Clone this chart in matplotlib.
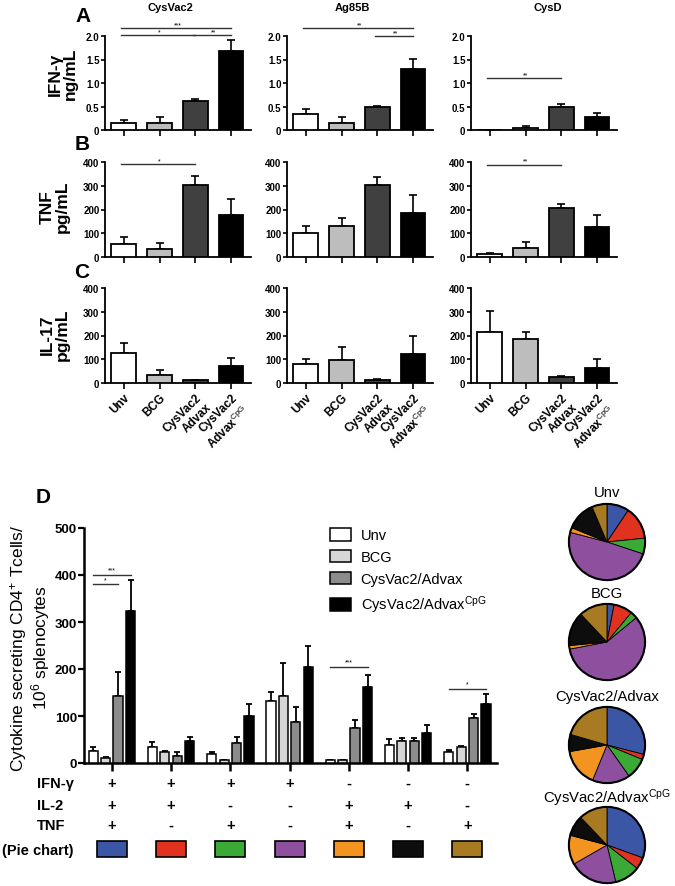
import numpy as np
import matplotlib
matplotlib.use("Agg")
from matplotlib import pyplot as plt
from matplotlib import transforms
from matplotlib.patches import Rectangle, Circle

plt.rcParams['font.family'] = ['Liberation Sans', 'DejaVu Sans']
plt.rcParams['mathtext.fontset'] = 'custom'
plt.rcParams['mathtext.rm'] = 'Liberation Sans'
plt.rcParams['mathtext.it'] = 'Liberation Sans:italic'
plt.rcParams['mathtext.bf'] = 'Liberation Sans:bold'

# ---- data: panels A-C (mean and upper error) ----
antigens = ["CysVac2", "Ag85B", "CysD"]
tick_groups = ["Unv", "BCG", "CysVac2\nAdvax", "CysVac2\nAdvax$^{\\mathrm{CpG}}$"]

ifng_mean = [[0.15, 0.14, 0.61, 1.68], [0.34, 0.14, 0.48, 1.29], [0.005, 0.05, 0.49, 0.28]]
ifng_err = [[0.07, 0.14, 0.06, 0.23], [0.11, 0.14, 0.03, 0.23], [0.0, 0.04, 0.06, 0.08]]
tnf_mean = [[55, 35, 305, 175], [103, 132, 303, 187], [13, 38, 207, 127]]
tnf_err = [[28, 23, 38, 68], [29, 31, 32, 73], [2, 27, 17, 51]]
il17_mean = [[125, 32, 13, 70], [78, 98, 13, 123], [215, 185, 25, 63]]
il17_err = [[45, 21, 1, 34], [23, 52, 2, 73], [90, 28, 3, 37]]

# significance: (row, col, bar_from, bar_to, y, label)
sig_abc = [(0, 0, 0, 3, 2.17, "***"), (0, 0, 0, 2, 2.02, "*"), (0, 0, 2, 3, 2.02, "**"),
           (0, 1, 0, 3, 2.17, "**"), (0, 1, 2, 3, 2.0, "**"),
           (0, 2, 0, 2, 1.10, "**"),
           (1, 0, 0, 2, 390, "*"), (1, 2, 0, 2, 388, "**")]

# ---- data: panel D ----
d_groups = ["Unv", "BCG", "CysVac2/Advax", "CysVac2/Advax$^{\\mathrm{CpG}}$"]
d_mean = [[26, 34, 20, 131, 6, 39, 23],
          [10, 23, 6, 143, 6, 47, 34],
          [143, 15, 43, 87, 75, 47, 96],
          [323, 47, 100, 205, 162, 64, 126]]
d_err = [[8, 10, 3, 21, 1, 12, 5],
         [2, 2, 1, 70, 1, 6, 2],
         [50, 8, 13, 32, 17, 6, 9],
         [67, 9, 26, 45, 26, 17, 20]]
ifng_row = ["+", "+", "+", "+", "-", "-", "-"]
il2_row = ["+", "+", "-", "-", "+", "+", "-"]
tnf_row = ["+", "-", "+", "-", "+", "-", "+"]
pie_colors = ["#3a56a5", "#e1321f", "#3aa935", "#8e4f9e", "#f39421", "#0d0d0d", "#a87a22"]
sig_d = [(0, 0, 3, 400, "***"), (0, 0, 2, 380, "*"), (4, 0, 3, 205, "***"), (6, 0, 3, 158, "*")]

# pie fractions (%), same order as pie_colors
pie_unv = [9.4, 14, 6.7, 49, 2, 12.5, 6.4]
pie_bcg = [3, 8, 3, 58, 1.5, 14.5, 12]
pie_adv = [29, 2.2, 9, 16, 16, 7.3, 20.5]
pie_cpg = [30.5, 5, 10.8, 20.4, 12.4, 8.8, 12.1]

W, H = 675, 887
fig = plt.figure(figsize=(W / 100, H / 100), dpi=100)


def add_px_axes(l, t, r, b):
    return fig.add_axes([l / W, 1 - b / H, (r - l) / W, (b - t) / H])


def ftext(x, y, s, **kw):
    return fig.text(x / W, 1 - y / H, s, **kw)


abc_colors = ["white", "#bdbdbd", "#404040", "black"]
cols_px = [(105, 251), (287, 433), (471, 617)]
rows_px = [(37, 131), (163, 258), (289, 384)]
row_data = [(ifng_mean, ifng_err, 2.0, [0, 0.5, 1.0, 1.5, 2.0], ["0", "0.5", "1.0", "1.5", "2.0"]),
            (tnf_mean, tnf_err, 400, [0, 100, 200, 300, 400], ["0", "100", "200", "300", "400"]),
            (il17_mean, il17_err, 400, [0, 100, 200, 300, 400], ["0", "100", "200", "300", "400"])]
x = np.arange(4)
axes_abc = {}
for ri, (t, b) in enumerate(rows_px):
    means, errs, ymax, yt, ytl = row_data[ri]
    for ci, (l, r) in enumerate(cols_px):
        ax = add_px_axes(l, t, r, b)
        axes_abc[(ri, ci)] = ax
        ax.bar(x, means[ci], width=0.68, color=abc_colors, edgecolor="black", linewidth=1.3, zorder=3)
        ax.errorbar(x, means[ci], yerr=[np.zeros(4), errs[ci]], fmt="none", ecolor="black",
                    elinewidth=1.2, capsize=3, capthick=1.2, zorder=2)
        ax.set_xlim(-0.52, 3.55)
        ax.set_ylim(0, ymax)
        ax.set_yticks(yt)
        ax.set_yticklabels(ytl, fontsize=7, fontweight="bold")
        ax.set_xticks(x)
        if ri == 2:
            ax.set_xticklabels(tick_groups, rotation=45, ha="right", va="top",
                               rotation_mode="anchor", fontsize=8.5, fontweight="bold")
        else:
            ax.set_xticklabels([])
        for s in ["top", "right"]:
            ax.spines[s].set_visible(False)
        for s in ["left", "bottom"]:
            ax.spines[s].set_linewidth(1.3)
        ax.tick_params(axis="y", width=1.2, length=3, pad=1)
        ax.tick_params(axis="x", width=1.2, length=4, pad=2)

for ri, ci, b0, b1, y, lab in sig_abc:
    ax = axes_abc[(ri, ci)]
    ax.plot([b0 - 0.08, b1], [y, y], color="#333333", lw=1.0, clip_on=False)
    ax.text((b0 + b1) / 2, y, lab, ha="center", va="bottom", fontsize=5, clip_on=False)

# titles, panel letters, y labels
for name, xc in zip(antigens, [170, 352, 548]):
    ftext(xc, 8, name, ha="center", va="center", fontsize=8, fontweight="bold")
for letter, (lx, ly) in zip("ABCD", [(83, 16), (82, 145), (82, 273), (43, 498)]):
    ftext(lx, ly, letter, ha="center", va="center", fontsize=15, fontweight="bold")
for lab, (lx, ly) in zip(["IFN-γ\nng/mL", "TNF\npg/mL", "IL-17\npg/mL"], [(63, 74), (55, 207), (55, 335)]):
    ftext(lx, ly, lab, ha="center", va="center", rotation=90, fontsize=12.5,
          fontweight="bold", linespacing=1.0)

# ---- panel D ----
axd = add_px_axes(84, 529, 497, 764)
d_colors = ["white", "#d6d6d6", "#8c8c8c", "black"]
gx = np.arange(7)
off = 0.21
for k in range(4):
    xs = gx + (k - 1.5) * off
    axd.bar(xs, d_mean[k], width=0.155, color=d_colors[k], edgecolor="black", linewidth=1.1,
            label=d_groups[k], zorder=3)
    axd.errorbar(xs, d_mean[k], yerr=[np.zeros(7), d_err[k]], fmt="none", ecolor="black",
                 elinewidth=1.3, capsize=2.2, capthick=1.3, zorder=2)
axd.set_xlim(-0.47, 6.5)
axd.set_ylim(0, 500)
axd.set_yticks(range(0, 501, 100))
axd.set_yticklabels([str(v) for v in range(0, 501, 100)], fontsize=9.5, fontweight="bold")
axd.set_xticks(gx)
axd.set_xticklabels([])
for s in ["top", "right"]:
    axd.spines[s].set_visible(False)
for s in ["left", "bottom"]:
    axd.spines[s].set_linewidth(1.8)
axd.tick_params(axis="y", width=1.6, length=4, pad=1)
axd.tick_params(axis="x", width=1.8, length=6)

for g, b0, b1, y, lab in sig_d:
    xa = g + (b0 - 1.5) * off
    xb = g + (b1 - 1.5) * off
    axd.plot([xa, xb], [y, y], color="#333333", lw=1.0, clip_on=False)
    axd.text((xa + xb) / 2, y + 3, lab, ha="center", va="bottom", fontsize=5)

ftext(30, 648, "Cytokine secreting CD4$^{+}$ Tcells/\n10$^{6}$ splenocytes", ha="center", va="center",
      rotation=90, fontsize=12.5, linespacing=1.05)

axd.legend(loc="upper left", bbox_to_anchor=(330 / W, 1 - 529 / H), bbox_transform=fig.transFigure,
           frameon=False, fontsize=10.5, handlelength=1.45, handleheight=0.95, handletextpad=0.65,
           labelspacing=0.52, borderpad=0, borderaxespad=0)

# cytokine combination table under the D axis
blend = transforms.blended_transform_factory(axd.transData, fig.transFigure)
for lab, row, yy in zip(["IFN-γ", "IL-2", "TNF"], [ifng_row, il2_row, tnf_row], [784, 806, 826]):
    ftext(37, yy, lab, ha="left", va="center", fontsize=10.5, fontweight="bold")
    for g, s in enumerate(row):
        axd.text(g, 1 - yy / H, s, transform=blend, ha="center", va="center",
                 fontsize=10.5, fontweight="bold")
ftext(2, 851, "(Pie chart)", ha="left", va="center", fontsize=10.5, fontweight="bold")
for g, c in enumerate(pie_colors):
    rect = Rectangle((g - 0.255, 1 - 858 / H), 0.51, 16 / H, transform=blend, facecolor=c,
                     edgecolor="black", linewidth=1.2, clip_on=False)
    axd.add_patch(rect)

# pies
pie_sets = [("Unv", pie_unv, 543, 493), ("BCG", pie_bcg, 643, 594),
            ("CysVac2/Advax", pie_adv, 746, 697), ("CysVac2/Advax$^{\\mathrm{CpG}}$", pie_cpg, 846, 798)]
pcx, pr = 607, 38
for title, fr, cy, ty in pie_sets:
    axp = add_px_axes(pcx - pr - 2, cy - pr - 2, pcx + pr + 2, cy + pr + 2)
    axp.pie(fr, colors=pie_colors, startangle=90, counterclock=False,
            wedgeprops=dict(edgecolor="black", linewidth=0.6))
    axp.add_patch(Circle((0, 0), 1, fill=False, edgecolor="black", linewidth=1.5))
    axp.set_xlim(-1.05, 1.05)
    axp.set_ylim(-1.05, 1.05)
    axp.set_aspect("equal")
    axp.axis("off")
    ftext(pcx, ty, title, ha="center", va="center", fontsize=10.7)

fig.savefig("out.png", dpi=100)
